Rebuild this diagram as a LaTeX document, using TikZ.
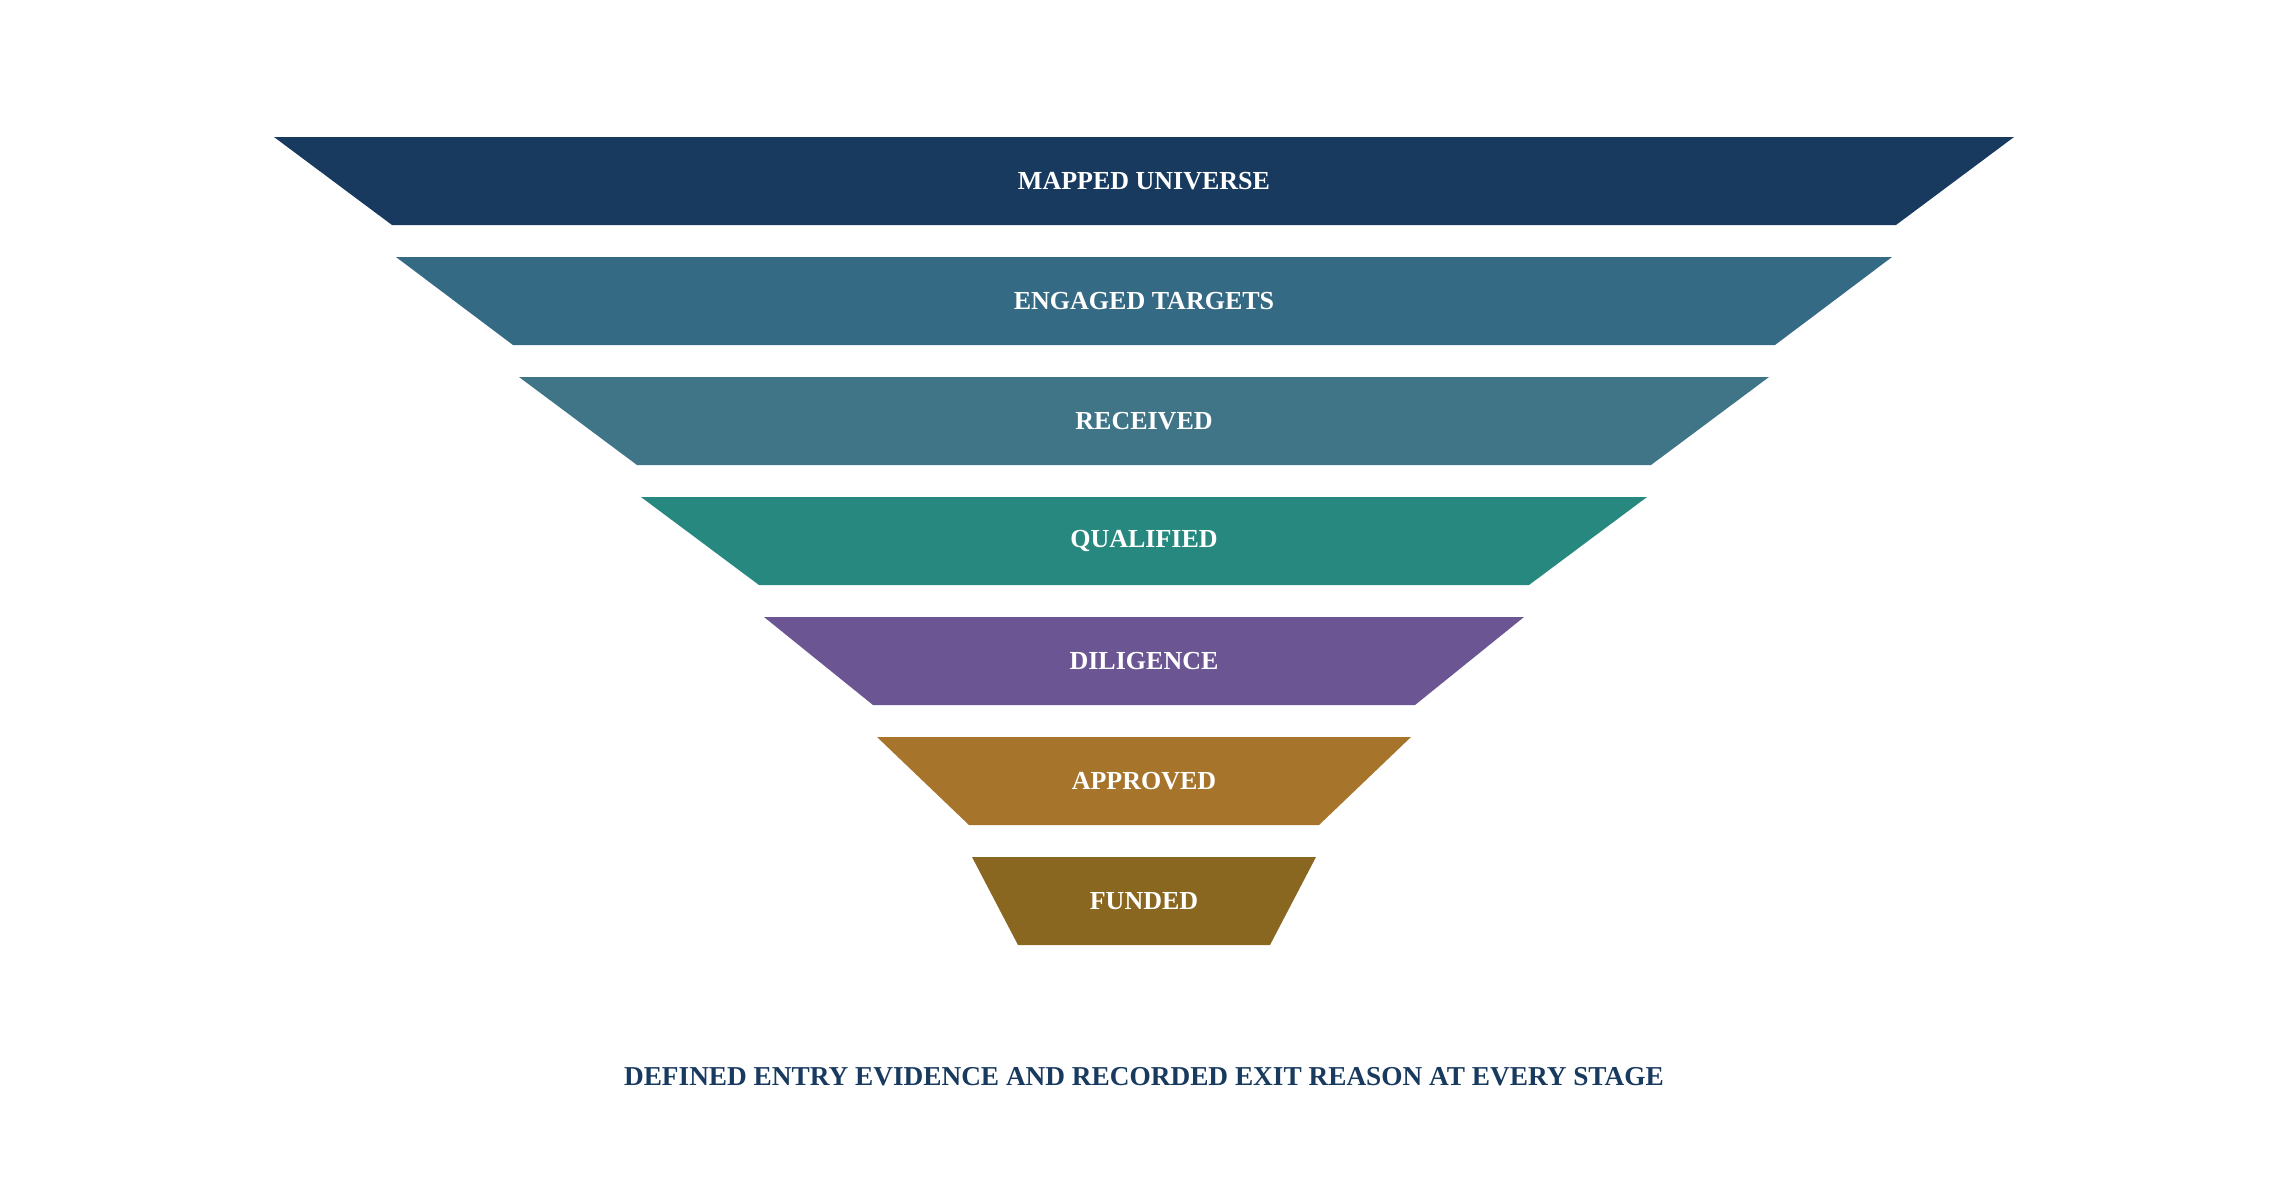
\documentclass[tikz,border=0pt]{standalone}
\usepackage{fontspec}
\setmainfont{Liberation Serif}
\definecolor{c1}{HTML}{183A5F}
\definecolor{c2}{HTML}{356A84}
\definecolor{c3}{HTML}{3F7587}
\definecolor{c4}{HTML}{26887E}
\definecolor{c5}{HTML}{6B5693}
\definecolor{c6}{HTML}{A6742A}
\definecolor{c7}{HTML}{8A6720}
\tikzset{
  lbl/.style={text=white, font=\bfseries\fontsize{26}{30}\selectfont, inner sep=0pt},
  foot/.style={text=c1, font=\bfseries\fontsize{27.3}{32}\selectfont, inner sep=0pt}
}
\begin{document}
\begin{tikzpicture}[x=1pt,y=-1pt]
\useasboundingbox (0,0) rectangle (2287,1187);
\fill[white] (0,0) rectangle (2287,1187);
\def\cx{1144}
% stage: top y, top half-width, bottom half-width, colour, label
\foreach \ty/\tw/\bw/\col/\nm/\txt in {
  137/870/752/c1/s1/MAPPED UNIVERSE,
  257/748/631/c2/s2/ENGAGED TARGETS,
  377/625/507/c3/s3/RECEIVED,
  497/503/385/c4/s4/QUALIFIED,
  617/380/271/c5/s5/DILIGENCE,
  737/267/175/c6/s6/APPROVED,
  857/172/126/c7/s7/FUNDED}{
  \fill[\col] (\cx-\tw,\ty) -- (\cx+\tw,\ty) -- (\cx+\bw,\ty+88) -- (\cx-\bw,\ty+88) -- cycle;
  \node[lbl] (\nm) at (\cx,\ty+44) {\txt};
}
\node[foot] (footer) at (\cx,1077) {DEFINED ENTRY EVIDENCE AND RECORDED EXIT REASON AT EVERY STAGE};
\end{tikzpicture}
\end{document}
